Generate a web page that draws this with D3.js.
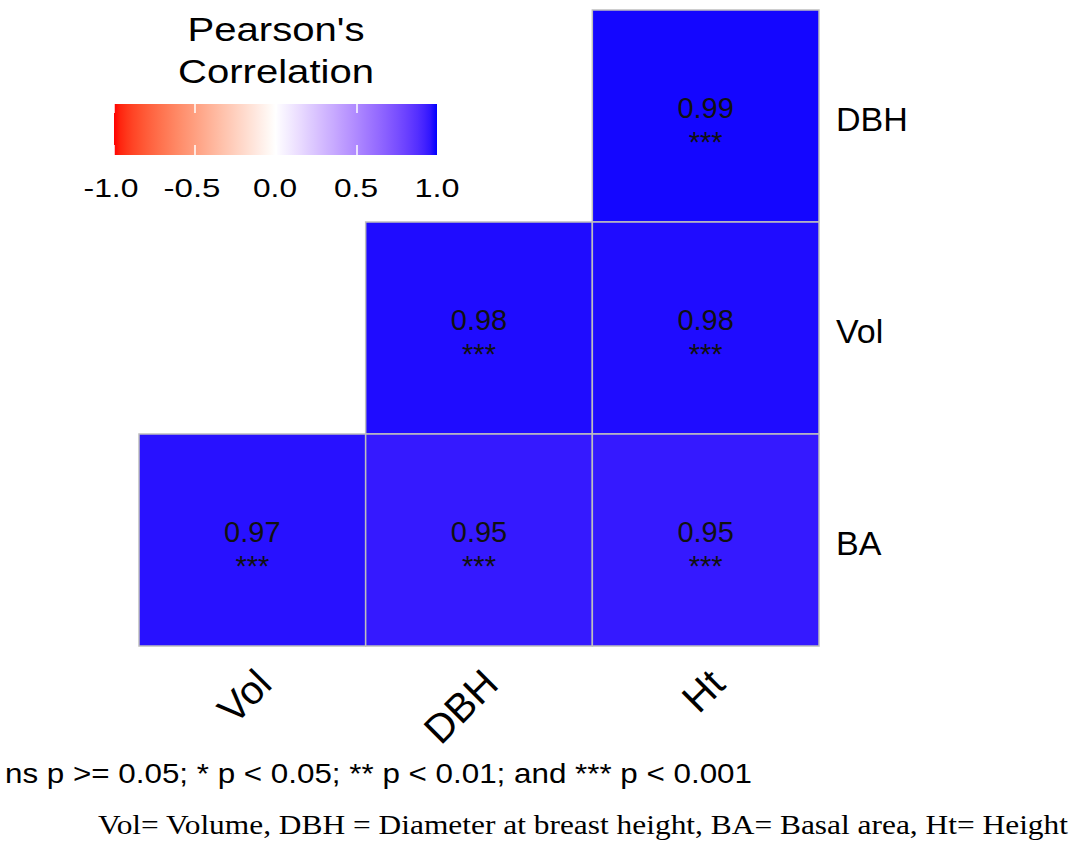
<!DOCTYPE html>
<html>
<head>
<meta charset="utf-8">
<script src="https://cdn.jsdelivr.net/npm/d3@7"></script>
<style>
  html, body { margin: 0; padding: 0; background: #fff; }
  svg { display: block; font-family: "Liberation Sans", Arial, sans-serif; }
</style>
</head>
<body>
<svg id="chart" width="1073" height="843"></svg>
<script>
// ---- data ----
const colVars = ["Vol", "DBH", "Ht"];
const rowVars = ["DBH", "Vol", "BA"];           // top to bottom
const corrDBH = [null, null, 0.99];
const corrVol = [null, 0.98, 0.98];
const corrBA  = [0.97, 0.95, 0.95];
const sigDBH  = [null, null, "***"];
const sigVol  = [null, "***", "***"];
const sigBA   = ["***", "***", "***"];
const legendTicks = [-1.0, -0.5, 0.0, 0.5, 1.0];
const legendTitle = ["Pearson's", "Correlation"];
const footnote = "ns p >= 0.05; * p < 0.05; ** p < 0.01; and *** p < 0.001";
const caption = "Vol= Volume, DBH = Diameter at breast height, BA= Basal area, Ht= Height";

const corrRows = { DBH: corrDBH, Vol: corrVol, BA: corrBA };
const sigRows = { DBH: sigDBH, Vol: sigVol, BA: sigBA };
const cells = [];
rowVars.forEach(r => colVars.forEach((c, i) => {
  if (corrRows[r][i] !== null) cells.push({ row: r, col: c, value: corrRows[r][i], sig: sigRows[r][i] });
}));

const svg = d3.select("#chart");
const SANS = "'Liberation Sans', Arial, sans-serif";

const color = d3.scaleLinear().domain([-1, 0, 1]).range(["red", "white", "blue"]).interpolate(d3.interpolateLab);

const x = d3.scaleBand().domain(colVars).range([139, 819]);
const y = d3.scaleBand().domain(rowVars).range([10, 646]);

// tiles
const g = svg.append("g");
g.selectAll("rect.tile").data(cells).enter().append("rect")
  .attr("class", "tile")
  .attr("x", d => x(d.col)).attr("y", d => y(d.row))
  .attr("width", x.bandwidth()).attr("height", y.bandwidth())
  .attr("fill", d => color(d.value))
  .attr("stroke", "#bebebe").attr("stroke-width", 1.5);

g.selectAll("text.val").data(cells).enter().append("text")
  .attr("class", "val")
  .attr("x", d => x(d.col) + x.bandwidth() / 2)
  .attr("y", d => y(d.row) + y.bandwidth() / 2 + 2)
  .attr("text-anchor", "middle")
  .style("font-size", "29px").attr("fill", "#111")
  .text(d => d.value.toFixed(2));

g.selectAll("text.sig").data(cells).enter().append("text")
  .attr("class", "sig")
  .attr("x", d => x(d.col) + x.bandwidth() / 2)
  .attr("y", d => y(d.row) + y.bandwidth() / 2 + 36)
  .attr("text-anchor", "middle")
  .style("font-size", "29px").attr("fill", "#111")
  .text(d => d.sig);

// right axis
const yAxis = svg.append("g").attr("transform", "translate(819,0)")
  .call(d3.axisRight(y).tickSize(0).tickPadding(17));
yAxis.select(".domain").remove();
yAxis.selectAll("text").style("font-size", "34px").style("font-family", SANS)
  .attr("fill", "#000").attr("dy", "0.45em");

// bottom axis (rotated)
const xAxis = svg.append("g").attr("transform", "translate(0,646)")
  .call(d3.axisBottom(x).tickSize(0).tickPadding(0));
xAxis.select(".domain").remove();
xAxis.selectAll(".tick text")
  .style("font-size", "40px").style("font-family", SANS).attr("fill", "#000")
  .attr("text-anchor", "end")
  .attr("x", 0).attr("y", 0).attr("dy", "0.72em")
  .attr("transform", "translate(1,20) rotate(-45)");

// legend
const lx = d3.scaleLinear().domain([-1, 1]).range([114, 438]);
const defs = svg.append("defs");
const grad = defs.append("linearGradient").attr("id", "lg").attr("x1", "0%").attr("x2", "100%");
d3.range(0, 1.0001, 0.02).forEach(t => {
  grad.append("stop").attr("offset", (t * 100) + "%").attr("stop-color", color(-1 + 2 * t));
});
const leg = svg.append("g");
leg.append("rect").attr("x", lx(-1)).attr("y", 104).attr("width", lx(1) - lx(-1) - 1).attr("height", 51)
  .attr("fill", "url(#lg)");
leg.selectAll("line.tt").data(legendTicks).enter().append("line")
  .attr("x1", d => lx(d)).attr("x2", d => lx(d)).attr("y1", 104).attr("y2", 113)
  .attr("stroke", "#fff").attr("stroke-width", 1.5);
leg.selectAll("line.tb").data(legendTicks).enter().append("line")
  .attr("x1", d => lx(d)).attr("x2", d => lx(d)).attr("y1", 145).attr("y2", 155)
  .attr("stroke", "#fff").attr("stroke-width", 1.5);
const tickLen = [55, 57, 44, 44, 45];
leg.selectAll("text.tl").data(legendTicks).enter().append("text")
  .attr("x", d => lx(d) - (d < 0 ? 3 : 1)).attr("y", 197)
  .attr("text-anchor", "middle").style("font-size", "25px").attr("fill", "#000")
  .attr("textLength", (d, i) => tickLen[i]).attr("lengthAdjust", "spacingAndGlyphs")
  .text(d => d.toFixed(1).replace("\u2212", "-"));
const titleLen = [177, 196];
leg.selectAll("text.ttl").data(legendTitle).enter().append("text")
  .attr("x", 276).attr("y", (d, i) => 41 + i * 42)
  .attr("text-anchor", "middle").style("font-size", "33px").attr("fill", "#000")
  .attr("textLength", (d, i) => titleLen[i]).attr("lengthAdjust", "spacingAndGlyphs")
  .text(d => d);

// footnote & caption
svg.append("text").attr("x", 5).attr("y", 783).style("font-size", "28px").attr("fill", "#000")
  .attr("textLength", 747).attr("lengthAdjust", "spacingAndGlyphs").text(footnote);
svg.append("text").attr("x", 98).attr("y", 834).style("font-size", "28px").attr("fill", "#000")
  .style("font-family", "'Liberation Serif', 'Times New Roman', serif")
  .attr("textLength", 970).attr("lengthAdjust", "spacingAndGlyphs").text(caption);
</script>
</body>
</html>
